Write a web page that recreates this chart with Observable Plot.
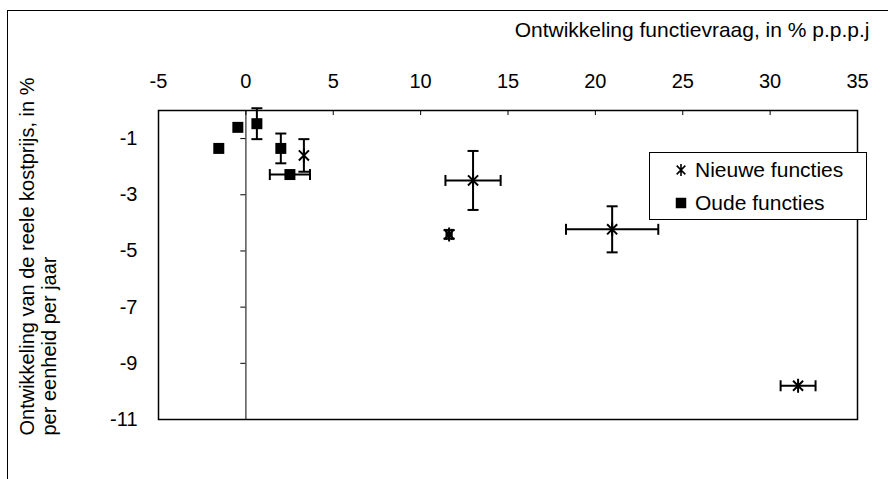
<!DOCTYPE html>
<html><head><meta charset="utf-8">
<script src="https://cdn.jsdelivr.net/npm/d3@7"></script>
<script src="https://cdn.jsdelivr.net/npm/@observablehq/plot@0.6"></script>
<style>
body{margin:0;background:#fff;font-family:"Liberation Sans",Arial,sans-serif;}
#wrap{position:relative;width:888px;height:479px;overflow:hidden;background:#fff;}
#border{position:absolute;left:7px;top:10px;width:1000px;height:1000px;border:1.5px solid #000;}
#chart{position:absolute;left:0;top:0;}
#legend{position:absolute;left:649px;top:152px;width:216px;height:66px;border:1.5px solid #000;background:#fff;font-size:21px;color:#000;}
.row{position:absolute;left:0;height:24px;display:flex;align-items:center;}
.row svg{margin-left:24px;margin-right:7px;}
</style>
</head><body>
<div id="wrap"><div id="border"></div><div id="chart"></div>
<div id="legend"></div></div>
<script>
const xTitle = "Ontwikkeling functievraag, in % p.p.p.j";
const yTitle = "Ontwikkeling van de reele kostprijs, in %\nper eenheid per jaar";
const xTicks = [-5, 0, 5, 10, 15, 20, 25, 30, 35];
const yTicks = [-1, -3, -5, -7, -9, -11];
const seriesNames = ["Nieuwe functies", "Oude functies"];

// Oude functies (squares)
const oudeX = [-1.55, -0.46, 0.63, 2.0, 2.52];
const oudeY = [-1.35, -0.6, -0.47, -1.35, -2.28];
const oudeErrX = [0, 0, 0, 0, 1.15];
const oudeErrY = [0, 0, 0.55, 0.53, 0];

// Nieuwe functies (stars)
const nieuweX = [3.32, 13.0, 11.63, 20.96, 31.6];
const nieuweY = [-1.6, -2.49, -4.41, -4.23, -9.8];
const nieuweErrX = [0, 1.58, 0.15, 2.64, 1.0];
const nieuweErrY = [0.58, 1.05, 0.15, 0.82, 0];

const oude = oudeX.map((x, i) => ({x, y: oudeY[i], ex: oudeErrX[i], ey: oudeErrY[i]}));
const nieuwe = nieuweX.map((x, i) => ({x, y: nieuweY[i], ex: nieuweErrX[i], ey: nieuweErrY[i]}));
const all = oude.concat(nieuwe);

const star = {draw(ctx, size) {
  const r = Math.sqrt(size / Math.PI), d = r * 0.72;
  ctx.moveTo(0, -r); ctx.lineTo(0, r);
  ctx.moveTo(-d, -d); ctx.lineTo(d, d);
  ctx.moveTo(-d, d); ctx.lineTo(d, -d);
}};
const hcap = {draw(ctx) { ctx.moveTo(-5.5, 0); ctx.lineTo(5.5, 0); }};
const vcap = {draw(ctx) { ctx.moveTo(0, -5.5); ctx.lineTo(0, 5.5); }};

const withEY = all.filter(d => d.ey > 0);
const withEX = all.filter(d => d.ex > 0);

const chart = Plot.plot({
  width: 888, height: 479,
  marginLeft: 158, marginRight: 31, marginTop: 110, marginBottom: 60,
  x: {domain: [-5, 35]},
  y: {domain: [-11, 0]},
  style: {fontFamily: '"Liberation Sans", Arial, sans-serif', fontSize: "20px", color: "#000", background: "transparent", overflow: "visible"},
  marks: [
    Plot.ruleX([0], {stroke: "#555", strokeWidth: 1.5}),
    Plot.frame({stroke: "#000", strokeWidth: 1.5}),
    Plot.axisX(xTicks, {anchor: "top", tickSize: 0, tickPadding: 23, label: null, tickFormat: d => String(d), fontSize: 20}),
    Plot.ruleX(xTicks, {x: d => d, y1: 0, y2: -0.18, stroke: "#000", strokeWidth: 1}),
    Plot.axisY(yTicks, {anchor: "left", tickSize: 0, tickPadding: 21, label: null, tickFormat: d => String(d), fontSize: 20}),
    Plot.ruleY(yTicks, {y: d => d, x1: -0.29, x2: 0, stroke: "#000", strokeWidth: 1}),
    // error bars
    Plot.link(withEY, {x1: "x", x2: "x", y1: d => d.y - d.ey, y2: d => d.y + d.ey, stroke: "#000", strokeWidth: 2}),
    Plot.dot(withEY, {x: "x", y: d => d.y - d.ey, symbol: hcap, stroke: "#000", fill: "none", strokeWidth: 2}),
    Plot.dot(withEY, {x: "x", y: d => d.y + d.ey, symbol: hcap, stroke: "#000", fill: "none", strokeWidth: 2}),
    Plot.link(withEX, {x1: d => d.x - d.ex, x2: d => d.x + d.ex, y1: "y", y2: "y", stroke: "#000", strokeWidth: 2}),
    Plot.dot(withEX, {x: d => d.x - d.ex, y: "y", symbol: vcap, stroke: "#000", fill: "none", strokeWidth: 2}),
    Plot.dot(withEX, {x: d => d.x + d.ex, y: "y", symbol: vcap, stroke: "#000", fill: "none", strokeWidth: 2}),
    // markers
    Plot.dot(oude, {x: "x", y: "y", symbol: "square", r: 6.2, fill: "#000", stroke: "none"}),
    Plot.dot(nieuwe, {x: "x", y: "y", symbol: star, r: 7, fill: "none", stroke: "#000", strokeWidth: 2}),
    // titles
    Plot.text([xTitle], {frameAnchor: "top-right", textAnchor: "end", lineAnchor: "middle", dx: 12, dy: -80, fontSize: 21, fill: "#000"}),
    Plot.text([yTitle], {frameAnchor: "bottom-left", rotate: -90, textAnchor: "start", lineAnchor: "top", lineHeight: 1.1, dx: -140, dy: 16, fontSize: 20, fill: "#000"})
  ]
});
document.getElementById("chart").appendChild(chart);

// legend
const legend = document.getElementById("legend");
seriesNames.forEach((name, i) => {
  const row = document.createElement("div");
  row.className = "row";
  row.style.top = (i === 0 ? 5 : 38) + "px";
  const s = d3.create("svg").attr("width", 14).attr("height", 14);
  const g = s.append("g").attr("transform", "translate(7,7)");
  if (i === 0) {
    g.append("path").attr("d", d3.symbol(star, Math.PI * 36)()).attr("fill", "none").attr("stroke", "#000").attr("stroke-width", 1.6);
  } else {
    g.append("path").attr("d", d3.symbol(d3.symbolSquare, 110)()).attr("fill", "#000");
  }
  row.appendChild(s.node());
  const t = document.createElement("span");
  t.textContent = name;
  row.appendChild(t);
  legend.appendChild(row);
});
</script>
</body></html>
